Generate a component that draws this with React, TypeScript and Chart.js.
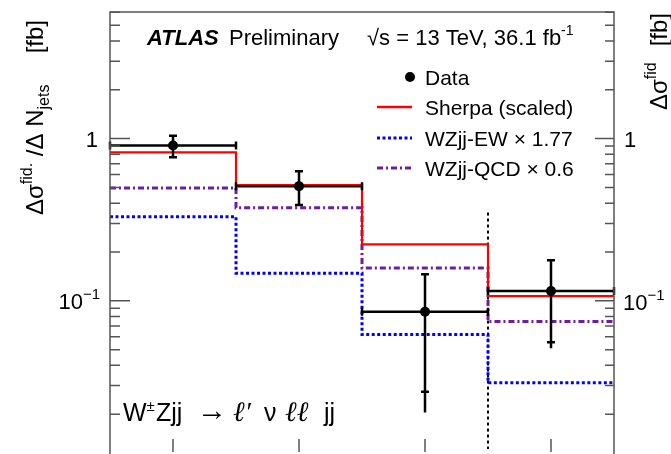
import React, { useEffect, useRef } from "react";
import { Chart, registerables } from "chart.js";
Chart.register(...registerables);

// ---- data ----
const binEdges = [-0.5, 0.5, 1.5, 2.5, 3.5];
const binCenters = [0, 1, 2, 3];
const dataValues = [0.906, 0.509, 0.0857, 0.115];
const dataTotHigh = [1.04, 0.629, 0.148, 0.18];
const dataTotLow = [0.766, 0.39, 0.0205, 0.051];
const dataStatHigh = [1.04, 0.629, 0.146, 0.178];
const dataStatLow = [0.766, 0.39, 0.0275, 0.0555];
const sherpaValues = [0.822, 0.517, 0.223, 0.107];
const ewValues = [0.33, 0.148, 0.062, 0.0312];
const qcdValues = [0.496, 0.374, 0.159, 0.0745];
const dividerX = 2.5;
const dividerRange = [0.35, 0.01];
const yMin = 0.0122;
const yMax = 6.03;
const yMajorTicks = [0.1, 1];
const yMinorTicks = [
  0.02, 0.03, 0.04, 0.05, 0.06, 0.07, 0.08, 0.09,
  0.2, 0.3, 0.4, 0.5, 0.6, 0.7, 0.8, 0.9,
  2, 3, 4, 5, 6,
];
const xTicks = [0, 1, 2, 3];

const FONT = '"Liberation Sans", Arial, Helvetica, sans-serif';
const SERIF = '"Liberation Serif", "DejaVu Serif", serif';
const PURPLE = "#6e1d9e";

type Seg = { t: string; size: number; dy?: number; bold?: boolean; italic?: boolean; serif?: boolean; dx?: number };

function fontOf(s: Seg) {
  return `${s.italic ? "italic " : ""}${s.bold ? "bold " : ""}${s.size}px ${s.serif ? SERIF : FONT}`;
}
function measureRich(ctx: CanvasRenderingContext2D, segs: Seg[]) {
  let w = 0;
  for (const s of segs) {
    ctx.font = fontOf(s);
    w += ctx.measureText(s.t).width + (s.dx || 0);
  }
  return w;
}
function drawRich(
  ctx: CanvasRenderingContext2D,
  segs: Seg[],
  x: number,
  y: number,
  align: "left" | "right" | "center" = "left",
  rotate = false
) {
  ctx.save();
  ctx.translate(x, y);
  if (rotate) ctx.rotate(-Math.PI / 2);
  const w = measureRich(ctx, segs);
  let cx = align === "left" ? 0 : align === "right" ? -w : -w / 2;
  ctx.textAlign = "left";
  ctx.textBaseline = "alphabetic";
  ctx.fillStyle = "#000";
  for (const s of segs) {
    ctx.font = fontOf(s);
    cx += s.dx || 0;
    ctx.fillText(s.t, cx, -(s.dy || 0));
    cx += ctx.measureText(s.t).width;
  }
  ctx.restore();
}

function stepPoints(vals: number[]) {
  return binEdges.map((x, i) => ({ x, y: vals[Math.min(i, vals.length - 1)] }));
}

const DATA_INDEX = 0;

const decorPlugin = {
  id: "atlasDecor",
  beforeDatasetDraw(chart: any, args: any) {
    if (args.index !== DATA_INDEX) return;
    const ctx: CanvasRenderingContext2D = chart.ctx;
    const xs = chart.scales.x;
    const ys = chart.scales.y;
    ctx.save();
    ctx.strokeStyle = "#000";
    ctx.lineWidth = 2.5;
    for (let i = 0; i < dataValues.length; i++) {
      const px = xs.getPixelForValue(binCenters[i]);
      const py = ys.getPixelForValue(dataValues[i]);
      const xl = xs.getPixelForValue(binEdges[i]);
      const xr = xs.getPixelForValue(binEdges[i + 1]);
      ctx.beginPath();
      ctx.moveTo(xl, py);
      ctx.lineTo(xr, py);
      ctx.moveTo(xl, py - 4);
      ctx.lineTo(xl, py + 4);
      ctx.moveTo(xr, py - 4);
      ctx.lineTo(xr, py + 4);
      const yh = ys.getPixelForValue(dataTotHigh[i]);
      const yl = ys.getPixelForValue(dataTotLow[i]);
      ctx.moveTo(px, yh);
      ctx.lineTo(px, yl);
      const sh = ys.getPixelForValue(dataStatHigh[i]);
      const sl = ys.getPixelForValue(dataStatLow[i]);
      ctx.moveTo(px - 4, sh);
      ctx.lineTo(px + 4, sh);
      ctx.moveTo(px - 4, sl);
      ctx.lineTo(px + 4, sl);
      ctx.stroke();
    }
    ctx.restore();
  },
  afterDraw(chart: any) {
    const ctx: CanvasRenderingContext2D = chart.ctx;
    const { left, right, top, bottom } = chart.chartArea;
    const xs = chart.scales.x;
    const ys = chart.scales.y;
    ctx.save();
    // frame (bottom edge lies below the visible area)
    ctx.strokeStyle = "#555";
    ctx.lineWidth = 1.5;
    ctx.beginPath();
    ctx.moveTo(left, bottom + 5);
    ctx.lineTo(left, top);
    ctx.lineTo(right, top);
    ctx.lineTo(right, bottom + 5);
    ctx.stroke();
    // y ticks (inside, both sides)
    ctx.beginPath();
    for (const v of yMajorTicks) {
      const py = ys.getPixelForValue(v);
      ctx.moveTo(left, py);
      ctx.lineTo(left + 20, py);
      ctx.moveTo(right, py);
      ctx.lineTo(right - 19, py);
    }
    for (const v of yMinorTicks) {
      const py = ys.getPixelForValue(v);
      if (py < top || py > bottom) continue;
      ctx.moveTo(left, py);
      ctx.lineTo(left + 10, py);
      ctx.moveTo(right, py);
      ctx.lineTo(right - 9, py);
    }
    for (const v of xTicks) {
      const px = xs.getPixelForValue(v);
      ctx.moveTo(px, bottom + 3);
      ctx.lineTo(px, bottom - 10);
    }
    ctx.stroke();
    ctx.restore();

    // y tick labels
    const p1 = ys.getPixelForValue(1);
    const p01 = ys.getPixelForValue(0.1);
    drawRich(ctx, [{ t: "1", size: 22 }], left - 12, p1 + 8, "right");
    drawRich(ctx, [{ t: "10", size: 22 }, { t: "\u22121", size: 15, dy: 10 }], left - 10, p01 + 8, "right");
    drawRich(ctx, [{ t: "1", size: 22 }], right + 10, p1 + 8, "left");
    drawRich(ctx, [{ t: "10", size: 22 }, { t: "\u22121", size: 15, dy: 10 }], right + 9, p01 + 9, "left");

    // left y title (rotated)
    drawRich(
      ctx,
      [
        { t: "\u0394\u03c3", size: 24 },
        { t: "fid.", size: 16, dy: 11 },
        { t: " /\u0394 N", size: 24 },
        { t: "jets", size: 16, dy: -6 },
      ],
      43,
      215,
      "left",
      true
    );
    drawRich(ctx, [{ t: "[fb]", size: 24 }], 43, 20, "right", true);

    // right y title (rotated, partially cut)
    drawRich(
      ctx,
      [
        { t: "\u0394\u03c3", size: 24 },
        { t: "fid", size: 16, dy: 11 },
      ],
      667,
      110,
      "left",
      true
    );
    drawRich(ctx, [{ t: "[fb]", size: 24 }], 667, 13, "right", true);

    // header
    drawRich(ctx, [{ t: "ATLAS", size: 22, bold: true, italic: true }], 147, 45, "left");
    drawRich(ctx, [{ t: "Preliminary", size: 22 }], 229, 45, "left");
    drawRich(
      ctx,
      [
        { t: "\u221as = 13 TeV, 36.1 fb", size: 22 },
        { t: "-1", size: 14, dy: 10 },
      ],
      367,
      45,
      "left"
    );

    // legend
    const lx0 = 377;
    const lx1 = 412;
    const tx = 425;
    const rows = [77, 107, 138, 168];
    ctx.save();
    ctx.fillStyle = "#000";
    ctx.beginPath();
    ctx.arc(410, rows[0], 5, 0, Math.PI * 2);
    ctx.fill();
    ctx.lineWidth = 2.5;
    ctx.strokeStyle = "#ff0000";
    ctx.beginPath();
    ctx.moveTo(lx0, rows[1]);
    ctx.lineTo(lx1, rows[1]);
    ctx.stroke();
    ctx.lineWidth = 3;
    ctx.strokeStyle = "#0000ff";
    ctx.setLineDash([3, 2.5]);
    ctx.beginPath();
    ctx.moveTo(lx0, rows[2]);
    ctx.lineTo(lx1, rows[2]);
    ctx.stroke();
    ctx.strokeStyle = PURPLE;
    ctx.setLineDash([6, 3, 2, 3]);
    ctx.beginPath();
    ctx.moveTo(lx0, rows[3]);
    ctx.lineTo(lx1, rows[3]);
    ctx.stroke();
    ctx.restore();
    const legendTexts = ["Data", "Sherpa (scaled)", "WZjj-EW \u00d7 1.77", "WZjj-QCD \u00d7 0.6"];
    legendTexts.forEach((t, i) => drawRich(ctx, [{ t, size: 21 }], tx, rows[i] + 8, "left"));

    // process label
    const by = 421;
    drawRich(ctx, [{ t: "W", size: 25 }, { t: "\u00b1", size: 15, dy: 10 }], 123, by, "left");
    drawRich(ctx, [{ t: "Zjj", size: 25 }], 156, by, "left");
    drawRich(ctx, [{ t: "\u2192", size: 30, serif: true }], 197, by - 1, "left");
    drawRich(ctx, [{ t: "\u2113\u2032", size: 28, serif: true, italic: true }], 233, by, "left");
    drawRich(ctx, [{ t: "\u03bd", size: 25 }], 264, by, "left");
    drawRich(ctx, [{ t: "\u2113\u2113", size: 28, serif: true, italic: true }], 285, by, "left");
    drawRich(ctx, [{ t: "jj", size: 25 }], 324, by, "left");
  },
};

export default function App() {
  const ref = useRef<HTMLCanvasElement | null>(null);
  useEffect(() => {
    if (!ref.current) return;
    const chart = new Chart(ref.current, {
      type: "line",
      data: {
        datasets: [
          {
            label: "Data",
            data: binCenters.map((x, i) => ({ x, y: dataValues[i] })),
            showLine: false,
            pointRadius: 5,
            pointBackgroundColor: "#000",
            pointBorderColor: "#000",
            pointBorderWidth: 0,
          } as any,
          {
            label: "Sherpa (scaled)",
            data: stepPoints(sherpaValues),
            stepped: true,
            borderColor: "#ff0000",
            borderWidth: 2.2,
            pointRadius: 0,
            fill: false,
          },
          {
            label: "WZjj-QCD x 0.6",
            data: stepPoints(qcdValues),
            stepped: true,
            borderColor: PURPLE,
            borderWidth: 3,
            borderDash: [6, 3, 2, 3],
            pointRadius: 0,
            fill: false,
          },
          {
            label: "WZjj-EW x 1.77",
            data: stepPoints(ewValues),
            stepped: true,
            borderColor: "#0000ff",
            borderWidth: 3,
            borderDash: [3, 2.5],
            pointRadius: 0,
            fill: false,
          },
          {
            label: "divider",
            data: dividerRange.map((y) => ({ x: dividerX, y })),
            borderColor: "#000",
            borderWidth: 2,
            borderDash: [3, 3],
            pointRadius: 0,
            fill: false,
          },
        ],
      },
      options: {
        responsive: false,
        maintainAspectRatio: false,
        animation: false,
        devicePixelRatio: 1,
        layout: { padding: { left: 110, right: 57, top: 12, bottom: 0 } },
        plugins: { legend: { display: false }, tooltip: { enabled: false } },
        scales: {
          x: { type: "linear", min: binEdges[0], max: binEdges[binEdges.length - 1], display: false },
          y: { type: "logarithmic", min: yMin, max: yMax, display: false },
        },
      },
      plugins: [decorPlugin],
    });
    return () => chart.destroy();
  }, []);
  return (
    <div style={{ position: "fixed", left: 0, top: 0, width: 671, height: 454, background: "#fff" }}>
      <canvas ref={ref} width={671} height={454} style={{ display: "block" }} />
    </div>
  );
}
